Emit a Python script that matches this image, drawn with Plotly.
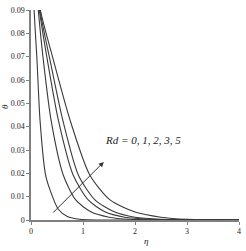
import plotly.graph_objects as go

# eta / theta values, one pair of arrays per curve
rd_labels = ["Rd=0", "Rd=1", "Rd=2", "Rd=3", "Rd=5"]
eta_rd0 = [0.0, 0.06, 0.115, 0.173, 0.28, 0.365, 0.525, 0.7, 0.9, 1.1, 4.0]
th_rd0 = [0.13, 0.09, 0.0686, 0.0429, 0.0193, 0.0129, 0.0046, 0.0015, 0.0004, 0.0001, 0.0]
eta_rd1 = [0.0, 0.14, 0.237, 0.385, 0.62, 0.86, 1.15, 1.5, 1.9, 2.4, 4.0]
th_rd1 = [0.13, 0.09, 0.0686, 0.0429, 0.0193, 0.0086, 0.0035, 0.0012, 0.0003, 0.0001, 0.0]
eta_rd2 = [0.0, 0.16, 0.314, 0.525, 0.81, 1.1, 1.42, 1.8, 2.3, 2.8, 4.0]
th_rd2 = [0.12, 0.09, 0.0686, 0.0429, 0.0193, 0.0086, 0.0035, 0.0012, 0.0003, 0.0001, 0.0]
eta_rd3 = [0.0, 0.17, 0.365, 0.61, 0.91, 1.23, 1.6, 2.0, 2.5, 3.0, 4.0]
th_rd3 = [0.12, 0.09, 0.0686, 0.0429, 0.0193, 0.0086, 0.0035, 0.0012, 0.0003, 0.0001, 0.0]
eta_rd5 = [0.0, 0.18, 0.43, 0.75, 1.13, 1.52, 2.0, 2.5, 3.0, 3.5, 4.0]
th_rd5 = [0.12, 0.09, 0.0686, 0.0429, 0.0193, 0.0086, 0.0034, 0.0012, 0.0003, 0.0001, 0.0]

series = [(eta_rd0, th_rd0), (eta_rd1, th_rd1), (eta_rd2, th_rd2), (eta_rd3, th_rd3), (eta_rd5, th_rd5)]

x_ticks = [0, 1, 2, 3, 4]
y_ticks = [0, 0.01, 0.02, 0.03, 0.04, 0.05, 0.06, 0.07, 0.08, 0.09]
y_tick_text = ["0", "0.01", "0.02", "0.03", "0.04", "0.05", "0.06", "0.07", "0.08", "0.09"]

# arrow (data coordinates)
arrow_tail = (0.40, 0.0026)
arrow_head = (1.40, 0.0249)
label_text = "Rd = 0, 1, 2, 3, 5"
label_pos = (1.38, 0.0343)

fig = go.Figure()
for name, (ex, th) in zip(rd_labels, series):
    fig.add_trace(go.Scatter(x=ex, y=th, mode="lines", name=name,
                             line=dict(color="#3a3a3a", width=1.1, shape="spline", smoothing=0.7),
                             showlegend=False, hoverinfo="skip"))

serif = "Liberation Serif"
fig.update_layout(
    width=246, height=251,
    margin=dict(l=31, r=7, t=10, b=31),
    paper_bgcolor="white", plot_bgcolor="white",
    font=dict(family=serif, size=8, color="#222"),
    xaxis=dict(range=[0, 4], tickvals=x_ticks, showgrid=False, zeroline=False, automargin=False,
               showline=True, linecolor="#808080", linewidth=1.5, ticks="outside",
               ticklen=3, tickcolor="#808080", tickfont=dict(size=8, family=serif, color="#222")),
    yaxis=dict(range=[0, 0.09], tickvals=y_ticks, ticktext=y_tick_text, showgrid=False,
               zeroline=False, showline=True, linecolor="#808080", linewidth=1.5, automargin=False,
               ticks="outside", ticklen=3, tickcolor="#808080",
               tickfont=dict(size=8, family=serif, color="#222")),
)

fig.add_annotation(x=-0.128, y=0.54, xref="paper", yref="paper", text="<i>θ</i>", textangle=-90,
                   xanchor="center", yanchor="middle",
                   showarrow=False, font=dict(size=9, family=serif, color="#222"))
fig.add_annotation(x=0.553, y=-0.1, xref="paper", yref="paper", text="<i>η</i>",
                   xanchor="center", yanchor="middle",
                   showarrow=False, font=dict(size=9, family=serif, color="#222"))

fig.add_annotation(x=arrow_head[0], y=arrow_head[1], ax=arrow_tail[0], ay=arrow_tail[1],
                   xref="x", yref="y", axref="x", ayref="y", text="",
                   showarrow=True, arrowhead=2, arrowsize=1, arrowwidth=1, arrowcolor="#333")
fig.add_annotation(x=label_pos[0], y=label_pos[1], xref="x", yref="y", text="<i>" + label_text + "</i>",
                   showarrow=False, font=dict(size=11, family=serif, color="#222"), xanchor="left")

fig.write_html("out.html", config={"displayModeBar": False},
               post_script="document.body.style.margin='0';document.body.style.overflow='hidden';")
